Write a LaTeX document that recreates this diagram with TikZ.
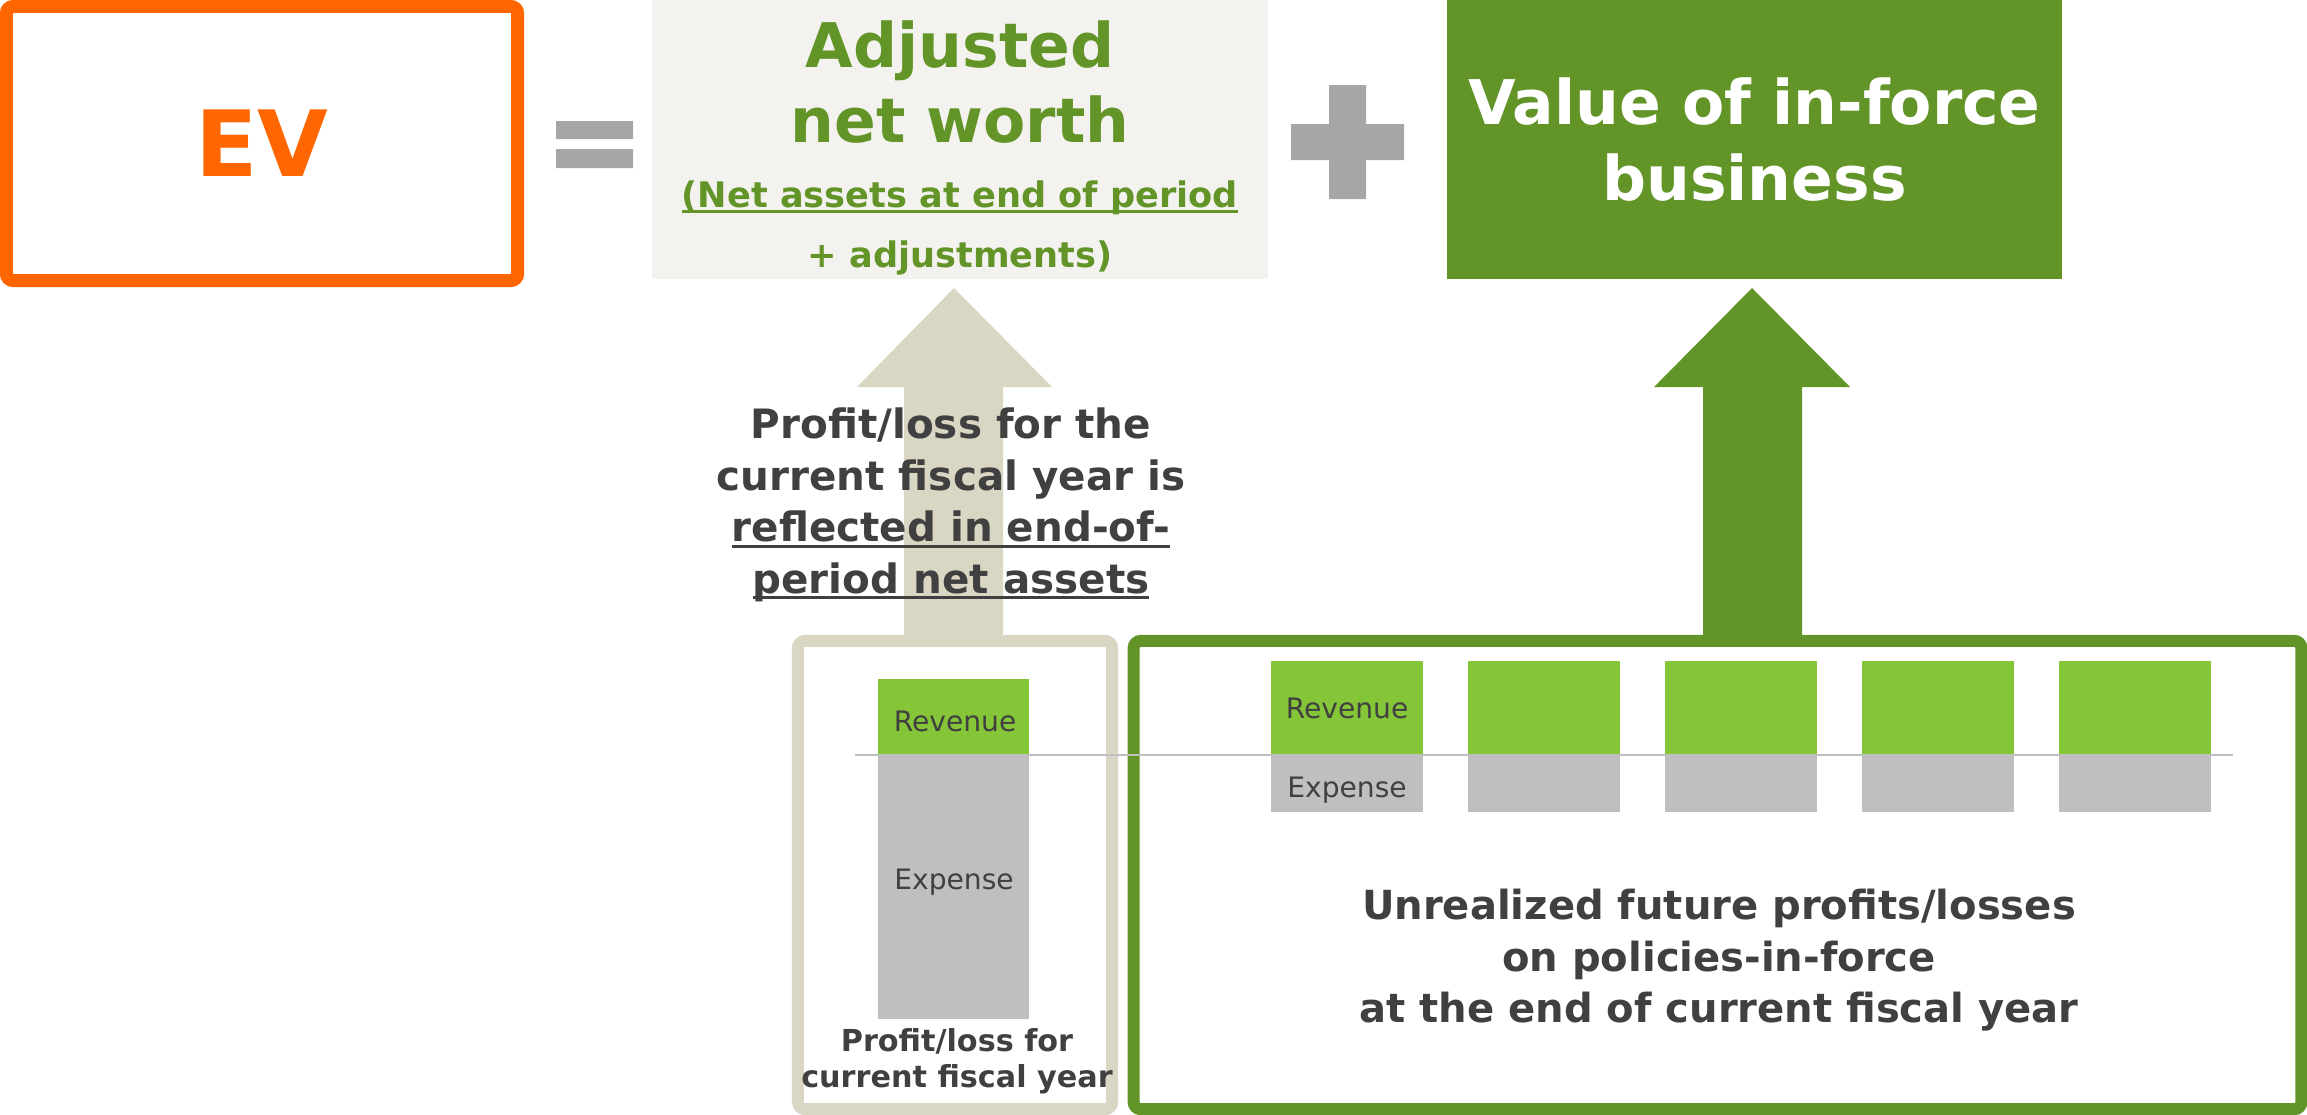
\documentclass[tikz,border=0pt]{standalone}
\usepackage{fontspec}
\setmainfont{DejaVu Sans}
\usetikzlibrary{positioning}

\definecolor{evorange}{HTML}{FF6600}
\definecolor{vifgreen}{HTML}{629428}
\definecolor{barlime}{HTML}{84C638}
\definecolor{bargray}{HTML}{BFBFBF}
\definecolor{anwback}{HTML}{F3F2EE}
\definecolor{beige}{HTML}{D9D6C4}
\definecolor{textgray}{HTML}{404040}
\definecolor{signgray}{HTML}{A6A6A6}

% underline sitting close to the baseline
\newsavebox{\ulnbox}
\newcommand{\uln}[1]{\sbox{\ulnbox}{#1}\rlap{\rule[-1.6pt]{\wd\ulnbox}{0.8pt}}\usebox{\ulnbox}}

\tikzset{
  bigtext/.style={font=\bfseries\fontsize{17.5}{21.4}\selectfont,align=center},
  note/.style={font=\bfseries\fontsize{11.5}{14.65}\selectfont,text=textgray,align=center},
  barlabel/.style={font=\fontsize{8}{9.6}\selectfont,text=textgray,anchor=base},
  frame/.style={line width=3.4pt,rounded corners=2pt,minimum height=4.68cm}
}

\begin{document}
\begin{tikzpicture}[x=0.01cm,y=-0.01cm,every node/.style={inner sep=0pt}]

\useasboundingbox (0,0) rectangle (2307,1114);

%EV
\node[draw=evorange,line width=3.7pt,rounded corners=2pt,minimum width=5.11cm,minimum height=2.74cm,
  text=evorange,font=\bfseries\fontsize{26}{30}\selectfont] (ev) at (262,143.5) {EV};

%equals
\fill[signgray] (556,121) rectangle (633,139) (556,149) rectangle (633,168);

%adjusted net worth
\node[fill=anwback,minimum width=6.16cm,minimum height=2.79cm] (anw) at (960,139.5) {};
\node[bigtext,text=vifgreen] (anwtitle) at (960,81.7) {Adjusted\\net worth};
\node[font=\bfseries\fontsize{10}{17.1}\selectfont,text=vifgreen,align=center] (anwsub) at (960,228)
  {\uln{(Net assets at end of period}\\+ adjustments)};

%plus
\fill[signgray] (1329,85) rectangle (1366,199) (1291,124) rectangle (1404,160);

%value of in-force business
\node[fill=vifgreen,text=white,bigtext,minimum width=6.15cm,minimum height=2.79cm] (vif) at (1754.5,139.5)
  {Value of in-force\\business};

%arrows
\fill[beige] (954,288) -- (1052,387) -- (1003,387) -- (1003,641) -- (904,641) -- (904,387) -- (857,387) -- cycle;
\fill[vifgreen] (1752,288) -- (1850,387) -- (1802,387) -- (1802,641) -- (1703,641) -- (1703,387) -- (1654,387) -- cycle;

%current fiscal year
\node[frame,draw=beige,minimum width=3.14cm] (plbox) at (955,875) {};
\fill[barlime] (878,679) rectangle (1029,754);
\fill[bargray] (878,754) rectangle (1029,1019);

%policies in force
\node[frame,draw=vifgreen,minimum width=11.67cm] (ifbox) at (1717.5,875) {};
\foreach \i in {0,...,4}{
  \fill[barlime] (1271+197*\i,661) rectangle (1423+197*\i,754);
  \fill[bargray] (1271+197*\i,754) rectangle (1423+197*\i,812);
}

\draw[bargray,line width=0.5pt] (855,755) -- (2233,755);

\node[barlabel] (revl) at (955,731) {Revenue};
\node[barlabel] (expl) at (954,889) {Expense};
\node[barlabel] (revr) at (1347,718) {Revenue};
\node[barlabel] (expr) at (1347,797) {Expense};

%texts
\node[note] (carry) at (951,505) {Profit/loss for the\\current fiscal year is\\\uln{reflected in end-of-}\\\uln{period net assets}};
\node[font=\bfseries\fontsize{8.6}{10.25}\selectfont,text=textgray,align=center] (pltext) at (957,1061.7)
  {Profit/loss for\\current fiscal year};
\node[note,font=\bfseries\fontsize{11.4}{14.65}\selectfont] (unreal) at (1719,960.4)
  {Unrealized future profits/losses\\on policies-in-force\\at the end of current fiscal year};

\end{tikzpicture}
\end{document}
